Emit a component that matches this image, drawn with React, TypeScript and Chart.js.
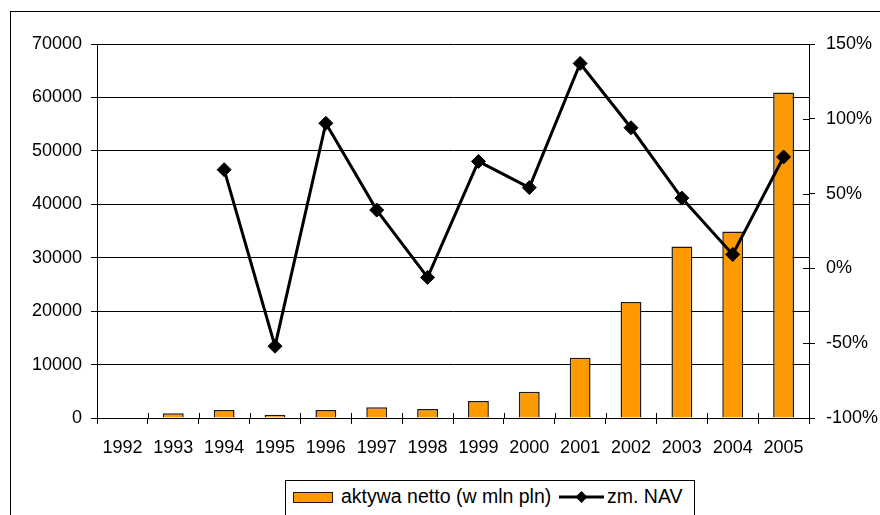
import React, { useEffect, useRef } from "react";
import { Chart, registerables } from "chart.js";

Chart.register(...registerables);

const years = ["1992", "1993", "1994", "1995", "1996", "1997", "1998", "1999", "2000", "2001", "2002", "2003", "2004", "2005"];
const netAssets = [null, 900, 1500, 600, 1500, 2000, 1700, 3200, 4900, 11300, 21700, 32100, 34900, 60900];
const navChange = [null, null, 0.66, -0.52, 0.97, 0.39, -0.06, 0.715, 0.54, 1.37, 0.94, 0.47, 0.093, 0.745];

const assetsLabel = "aktywa netto (w mln pln)";
const navLabel = "zm. NAV";

const FONT = "'Liberation Sans', Arial, sans-serif";
const ORANGE = "#FF9900";

// Tick marks that cross the axis line (the inner half is drawn here).
const crossTicks = {
  id: "crossTicks",
  afterDatasetsDraw(chart: any) {
    const { ctx, chartArea, scales } = chart;
    ctx.save();
    ctx.strokeStyle = "#000";
    ctx.lineWidth = 1;
    const x = scales.x;
    const n = x.ticks.length;
    const step = (chartArea.right - chartArea.left) / n;
    for (let i = 0; i <= n; i++) {
      const px = Math.round(chartArea.left + i * step) + 0.5;
      ctx.beginPath();
      ctx.moveTo(px, chartArea.bottom - 5);
      ctx.lineTo(px, chartArea.bottom);
      ctx.stroke();
    }
    const y1 = scales.y1;
    y1.ticks.forEach((t: any) => {
      const py = Math.round(y1.getPixelForValue(t.value)) + 0.5;
      ctx.beginPath();
      ctx.moveTo(chartArea.right - 6, py);
      ctx.lineTo(chartArea.right, py);
      ctx.stroke();
    });
    ctx.restore();
  },
};

export default function App() {
  const ref = useRef<HTMLCanvasElement | null>(null);

  useEffect(() => {
    if (!ref.current) return;
    Chart.defaults.font.family = FONT;
    const chart = new Chart(ref.current, {
      type: "bar",
      data: {
        labels: years,
        datasets: [
          {
            type: "line",
            label: navLabel,
            data: navChange,
            yAxisID: "y1",
            borderColor: "#000",
            borderWidth: 3,
            pointStyle: "rectRot",
            pointRadius: 7,
            pointBackgroundColor: "#000",
            pointBorderColor: "#000",
            pointBorderWidth: 1,
            tension: 0,
            order: 0,
          } as any,
          {
            type: "bar",
            label: assetsLabel,
            data: netAssets,
            yAxisID: "y",
            backgroundColor: ORANGE,
            borderColor: "#1a1a1a",
            borderWidth: 1.5,
            categoryPercentage: 1,
            barPercentage: 0.41,
            order: 1,
          },
        ],
      },
      options: {
        responsive: false,
        animation: false,
        layout: { padding: { top: 44, left: 0, right: 0, bottom: 0 } },
        plugins: { legend: { display: false }, tooltip: { enabled: false } },
        scales: {
          x: {
            offset: true,
            grid: { display: true, drawOnChartArea: false, drawTicks: true, tickLength: 6, color: "#000", offset: true },
            border: { display: true, color: "#000", width: 1 },
            ticks: { color: "#000", font: { size: 18, family: FONT }, padding: 13, maxRotation: 0, autoSkip: false },
            afterFit: (s: any) => { s.height = 97; },
          },
          y: {
            position: "left",
            min: 0,
            max: 70000,
            grid: { color: "#000", lineWidth: 1, tickLength: 6 },
            border: { display: true, color: "#000", width: 1 },
            ticks: {
              stepSize: 10000,
              color: "#000",
              font: { size: 18, family: FONT },
              padding: 9,
              callback: (v: any) => String(v),
            },
            afterFit: (s: any) => { s.width = 97; },
          },
          y1: {
            position: "right",
            min: -1,
            max: 1.5,
            grid: { drawOnChartArea: false, color: "#000", tickLength: 6 },
            border: { display: true, color: "#000", width: 1 },
            ticks: {
              stepSize: 0.5,
              color: "#000",
              font: { size: 18, family: FONT },
              padding: 11,
              callback: (v: any) => `${Math.round(Number(v) * 100)}%`,
            },
            afterFit: (s: any) => { s.width = 71; },
          },
        },
      },
      plugins: [crossTicks],
    });
    return () => chart.destroy();
  }, []);

  return (
    <div style={{ position: "fixed", left: 0, top: 0, width: 880, height: 515, overflow: "hidden", background: "#fff" }}>
      <div style={{ position: "absolute", left: 10, top: 11, width: 900, height: 600, border: "1px solid #000" }} />
      <canvas ref={ref} width={880} height={515} style={{ position: "absolute", left: 0, top: 0 }} />
      <div
        style={{
          position: "absolute",
          left: 285,
          top: 480,
          width: 408,
          height: 50,
          border: "1px solid #000",
          background: "#fff",
          fontFamily: FONT,
          fontSize: 19.5,
          color: "#000",
        }}
      >
        <div style={{ position: "absolute", left: 7, top: 11, width: 38, height: 9, background: ORANGE, border: "1.5px solid #1a1a1a" }} />
        <div style={{ position: "absolute", left: 55, top: 3, lineHeight: "24px", whiteSpace: "nowrap" }}>{assetsLabel}</div>
        <svg style={{ position: "absolute", left: 273, top: 6, overflow: "visible" }} width={45} height={20}>
          <line x1={0} y1={10} x2={45} y2={10} stroke="#000" strokeWidth={3} />
          <polygon points="22.5,4 28.5,10 22.5,16 16.5,10" fill="#000" />
        </svg>
        <div style={{ position: "absolute", left: 321, top: 3, lineHeight: "24px", whiteSpace: "nowrap" }}>{navLabel}</div>
      </div>
    </div>
  );
}
